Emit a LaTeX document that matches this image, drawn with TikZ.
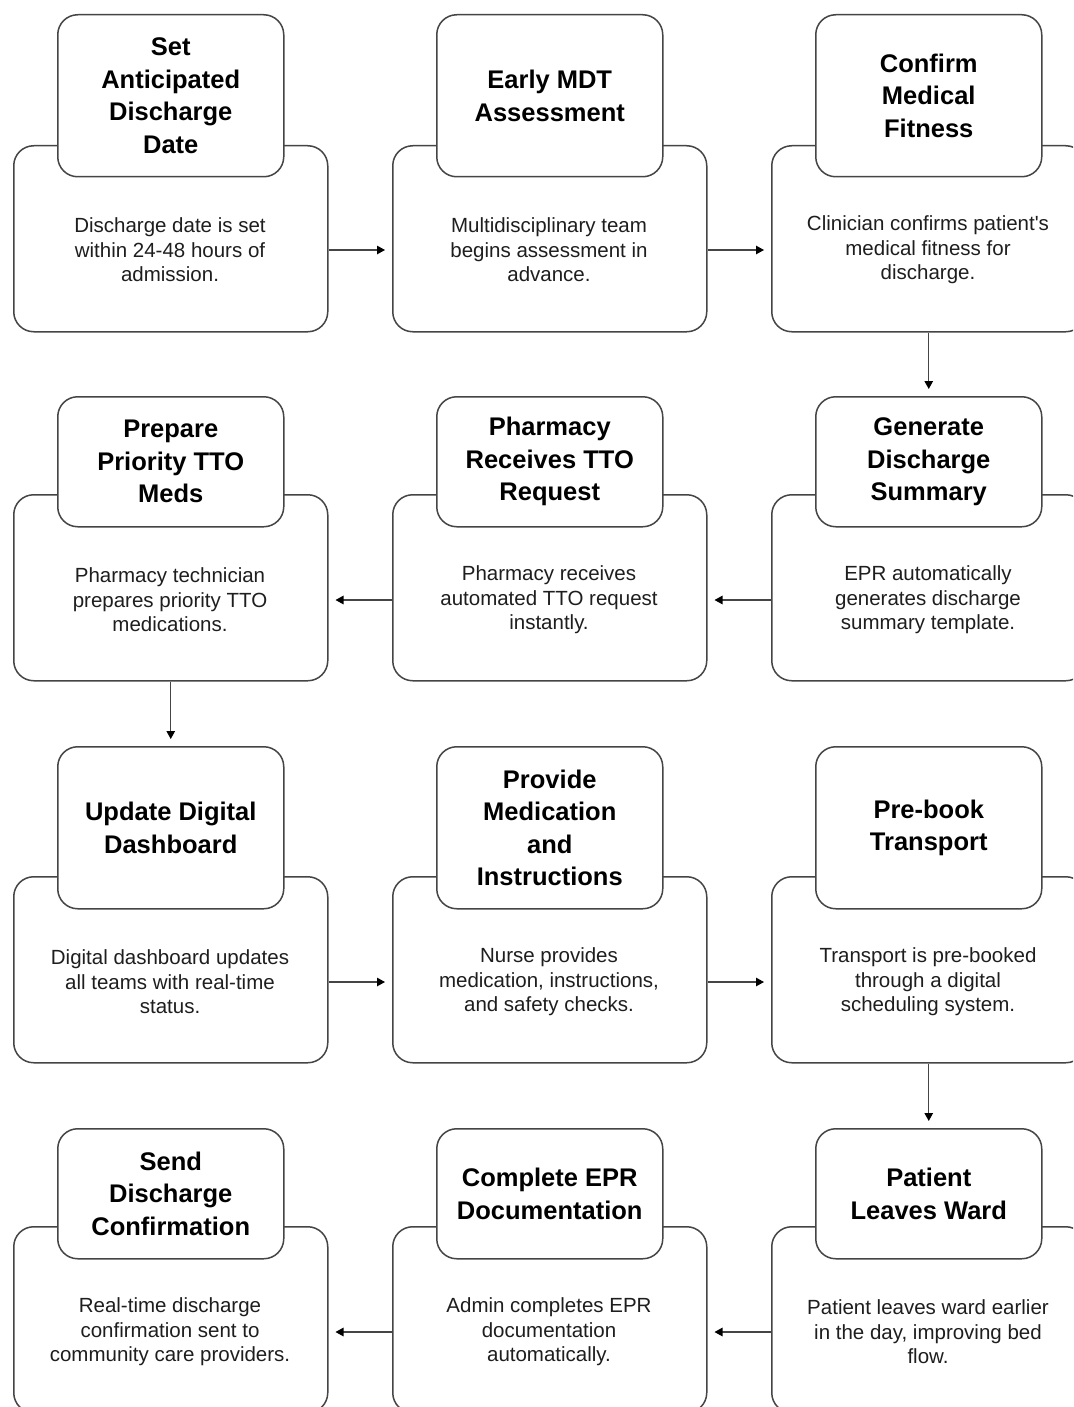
\documentclass[tikz,border=0pt]{standalone}
\usepackage{fontspec}
\setmainfont{Liberation Sans}
\usetikzlibrary{arrows.meta}
\definecolor{linec}{HTML}{454545}
\definecolor{txtc}{HTML}{1E1E1E}
\begin{document}
\begin{tikzpicture}[x=1pt,y=-1pt,
  body/.style={draw=linec, line width=1.5pt, rounded corners=20pt, minimum width=314pt, minimum height=186pt, anchor=north west, inner sep=0pt},
  head/.style={draw=linec, fill=white, line width=1.5pt, rounded corners=20pt, minimum width=226pt, anchor=north west, inner sep=0pt, align=center, text=black, font=\fontsize{25.5}{32.5}\selectfont\bfseries},
  tall/.style={minimum height=162pt},
  short/.style={minimum height=130pt},
  desc/.style={align=center, text=txtc, inner sep=0pt, font=\fontsize{20.5}{24.5}\selectfont},
  arr/.style={draw=linec, line width=1.2pt, -{Triangle[length=8pt,width=8.5pt,color=black,fill=black]}, shorten >=7pt}
]
\useasboundingbox (0,0) rectangle (1073,1407);
\clip (0,0) rectangle (1073,1407);
\fill[white] (0,0) rectangle (1073,1407);

% Row 1
\node[body] (b11) at (13,145) {};
\node[body] (b12) at (392,145) {};
\node[body] (b13) at (771,145) {};
\node[head,tall] (h11) at (57,14) {Set\\Anticipated\\Discharge\\Date};
\node[head,tall] (h12) at (436,14) {Early MDT\\Assessment};
\node[head,tall] (h13) at (815,14) {Confirm\\Medical\\Fitness};
\node[desc] (d11) at (170,250) {Discharge date is set\\within 24-48 hours of\\admission.};
\node[desc] (d12) at (549,250) {Multidisciplinary team\\begins assessment in\\advance.};
\node[desc] (d13) at (928,250) {Clinician confirms patient\textquotesingle s\\medical fitness for\\discharge.};

% Row 2
\node[body] (b21) at (13,494) {};
\node[body] (b22) at (392,494) {};
\node[body] (b23) at (771,494) {};
\node[head,short] (h21) at (57,396) {Prepare\\Priority TTO\\Meds};
\node[head,short] (h22) at (436,396) {Pharmacy\\Receives TTO\\Request};
\node[head,short] (h23) at (815,396) {Generate\\Discharge\\Summary};
\node[desc] (d21) at (170,600) {Pharmacy technician\\prepares priority TTO\\medications.};
\node[desc] (d22) at (549,600) {Pharmacy receives\\automated TTO request\\instantly.};
\node[desc] (d23) at (928,600) {EPR automatically\\generates discharge\\summary template.};

% Row 3
\node[body] (b31) at (13,876) {};
\node[body] (b32) at (392,876) {};
\node[body] (b33) at (771,876) {};
\node[head,tall] (h31) at (57,746) {Update Digital\\Dashboard};
\node[head,tall] (h32) at (436,746) {Provide\\Medication\\and\\Instructions};
\node[head,tall] (h33) at (815,746) {Pre-book\\Transport};
\node[desc] (d31) at (170,982) {Digital dashboard updates\\all teams with real-time\\status.};
\node[desc] (d32) at (549,982) {Nurse provides\\medication, instructions,\\and safety checks.};
\node[desc] (d33) at (928,982) {Transport is pre-booked\\through a digital\\scheduling system.};

% Row 4
\node[body] (b41) at (13,1226) {};
\node[body] (b42) at (392,1226) {};
\node[body] (b43) at (771,1226) {};
\node[head,short] (h41) at (57,1128) {Send\\Discharge\\Confirmation};
\node[head,short] (h42) at (436,1128) {Complete EPR\\Documentation};
\node[head,short] (h43) at (815,1128) {Patient\\Leaves Ward};
\node[desc] (d41) at (170,1332) {Real-time discharge\\confirmation sent to\\community care providers.};
\node[desc] (d42) at (549,1332) {Admin completes EPR\\documentation\\automatically.};
\node[desc] (d43) at (928,1332) {Patient leaves ward earlier\\in the day, improving bed\\flow.};

% Connectors
\draw[arr] (d11.center -| b11.east) -- (d11.center -| b12.west);
\draw[arr] (d12.center -| b12.east) -- (d12.center -| b13.west);
\draw[arr] (b13.south) -- (h23.north);
\draw[arr] (d23.center -| b23.west) -- (d23.center -| b22.east);
\draw[arr] (d22.center -| b22.west) -- (d22.center -| b21.east);
\draw[arr] (b21.south) -- (h31.north);
\draw[arr] (d31.center -| b31.east) -- (d31.center -| b32.west);
\draw[arr] (d32.center -| b32.east) -- (d32.center -| b33.west);
\draw[arr] (b33.south) -- (h43.north);
\draw[arr] (d43.center -| b43.west) -- (d43.center -| b42.east);
\draw[arr] (d42.center -| b42.west) -- (d42.center -| b41.east);
\end{tikzpicture}
\end{document}
